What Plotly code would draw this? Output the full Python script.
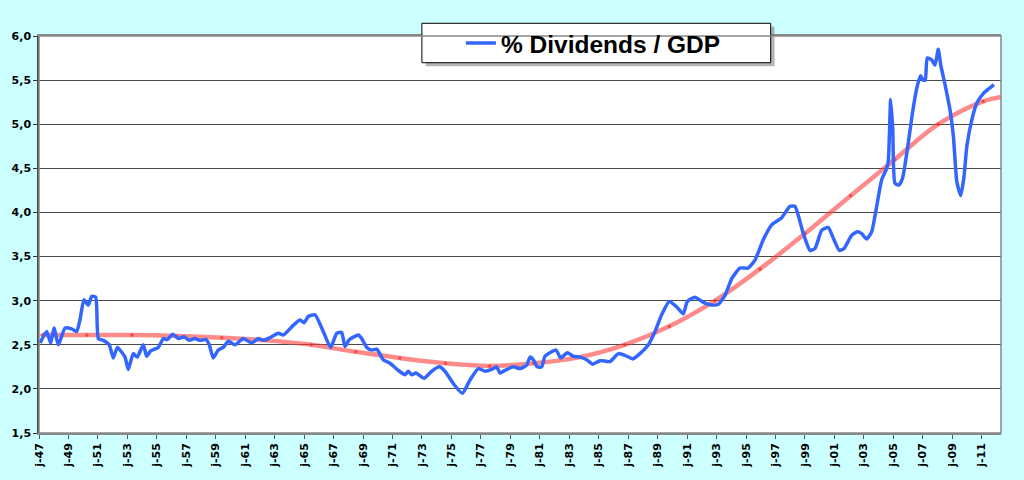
import plotly.graph_objects as go

# Blue series: % Dividends / GDP (year, value)
div_years = [
    1947.07, 1947.52, 1947.79, 1948.02, 1948.31, 1948.77, 1949.22, 1949.56, 1949.78, 1950.05,
    1950.35, 1950.58, 1950.85, 1951.03, 1951.37, 1951.77, 1952.04, 1952.32, 1952.84, 1953.06,
    1953.40, 1953.67, 1954.08, 1954.31, 1954.58, 1955.10, 1955.44, 1955.71, 1956.08, 1956.46,
    1956.84, 1957.20, 1957.59, 1957.93, 1958.34, 1958.56, 1958.83, 1959.17, 1959.51, 1959.85,
    1960.31, 1960.87, 1961.44, 1961.89, 1962.23, 1962.68, 1963.25, 1963.59, 1964.26, 1964.72,
    1964.99, 1965.28, 1965.74, 1966.30, 1966.80, 1967.21, 1967.55, 1967.77, 1968.07, 1968.68,
    1968.91, 1969.25, 1969.59, 1969.93, 1970.37, 1970.83, 1971.39, 1971.85, 1972.07, 1972.30,
    1972.59, 1973.14, 1973.66, 1974.18, 1974.56, 1975.13, 1975.74, 1976.26, 1976.82, 1977.28,
    1977.73, 1978.07, 1978.30, 1978.64, 1979.20, 1979.66, 1980.11, 1980.33, 1980.56, 1980.83,
    1981.13, 1981.35, 1982.10, 1982.42, 1982.86, 1983.27, 1983.73, 1984.18, 1984.59, 1985.09,
    1985.77, 1986.33, 1986.78, 1987.31, 1987.80, 1988.37, 1988.82, 1989.27, 1989.79, 1990.29,
    1990.74, 1991.01, 1991.54, 1992.10, 1992.67, 1993.12, 1993.57, 1994.03, 1994.59, 1995.15,
    1995.61, 1996.17, 1996.74, 1997.42, 1997.98, 1998.32, 1998.89, 1999.34, 1999.68, 2000.14,
    2000.58, 2000.92, 2001.33, 2001.65, 2002.17, 2002.55, 2002.85, 2003.19, 2003.53, 2003.87,
    2004.21, 2004.55, 2004.66, 2004.82, 2004.96, 2005.11, 2005.38, 2005.63, 2005.95, 2006.31,
    2006.62, 2006.85, 2007.03, 2007.17, 2007.30, 2007.60, 2007.83, 2008.05, 2008.22, 2008.51,
    2008.85, 2009.08, 2009.31, 2009.58, 2009.80, 2009.99, 2010.33, 2010.67, 2011.12, 2011.46,
    2011.83,
]
div_values = [
    2.52, 2.65, 2.52, 2.69, 2.50, 2.69, 2.68, 2.65, 2.78, 3.01,
    2.95, 3.05, 3.04, 2.57, 2.55, 2.50, 2.35, 2.47, 2.36, 2.22,
    2.40, 2.36, 2.50, 2.37, 2.43, 2.47, 2.57, 2.56, 2.62, 2.57,
    2.59, 2.55, 2.57, 2.55, 2.56, 2.50, 2.35, 2.44, 2.47, 2.54,
    2.50, 2.57, 2.52, 2.57, 2.55, 2.58, 2.63, 2.61, 2.72, 2.78,
    2.75, 2.82, 2.84, 2.65, 2.47, 2.63, 2.64, 2.48, 2.56, 2.61,
    2.57, 2.47, 2.44, 2.45, 2.33, 2.29, 2.21, 2.16, 2.20, 2.16,
    2.18, 2.12, 2.20, 2.25, 2.20, 2.06, 1.95, 2.10, 2.23, 2.20,
    2.22, 2.25, 2.18, 2.21, 2.25, 2.23, 2.27, 2.36, 2.33, 2.25,
    2.25, 2.37, 2.44, 2.35, 2.41, 2.37, 2.36, 2.33, 2.28, 2.32,
    2.31, 2.40, 2.38, 2.34, 2.40, 2.50, 2.65, 2.84, 2.99, 2.93,
    2.85, 2.99, 3.04, 2.98, 2.95, 2.96, 3.06, 3.25, 3.37, 3.37,
    3.46, 3.69, 3.86, 3.94, 4.07, 4.07, 3.76, 3.57, 3.59, 3.80,
    3.83, 3.71, 3.57, 3.59, 3.74, 3.78, 3.76, 3.70, 3.78, 4.07,
    4.37, 4.50, 4.58, 5.28, 4.94, 4.33, 4.31, 4.39, 4.71, 5.14,
    5.43, 5.55, 5.50, 5.50, 5.75, 5.73, 5.67, 5.85, 5.67, 5.45,
    5.16, 4.86, 4.35, 4.19, 4.41, 4.75, 5.05, 5.24, 5.35, 5.40,
    5.45,
]

# Red trend series
trend_years = [1947.2, 1950.25, 1953.3, 1956.35, 1959.4, 1962.45, 1965.5, 1968.5,
               1971.5, 1974.6, 1977.6, 1980.6, 1983.7, 1986.75, 1989.8, 1992.9,
               1995.95, 1999.0, 2002.1, 2005.1, 2008.05, 2011.1, 2012.35]
trend_values = [2.61, 2.61, 2.61, 2.60, 2.58, 2.55, 2.50, 2.42,
                2.35, 2.29, 2.26, 2.29, 2.36, 2.50, 2.71, 3.00,
                3.36, 3.76, 4.19, 4.60, 5.00, 5.26, 5.31]
trend_dot = [1] * (len(trend_years) - 1) + [0]

# X tick labels
tick_years = list(range(1947, 2012, 2))
tick_labels = ["j-%02d" % (y % 100) for y in tick_years]

fig = go.Figure()
fig.add_trace(go.Scatter(
    x=trend_years, y=trend_values, mode="lines+markers",
    line=dict(color="rgba(255,60,60,0.6)", width=4.5, shape="spline", smoothing=1.0),
    marker=dict(color="rgba(230,30,30,0.9)", size=[3 * d for d in trend_dot]),
    showlegend=False, hoverinfo="skip",
))
fig.add_trace(go.Scatter(
    x=div_years, y=div_values, mode="lines", name="% Dividends / GDP",
    line=dict(color="#3366FF", width=3.5, shape="spline", smoothing=0.5),
))

# Legend box with shadow
bx0, bx1, by0, by1 = 0.398, 0.7606, 0.9327, 1.032
fig.add_shape(type="rect", xref="paper", yref="paper",
              x0=bx0 + 0.004, x1=bx1 + 0.004, y0=by0 - 0.009, y1=by1 - 0.009,
              fillcolor="rgba(120,120,120,0.55)", line=dict(width=0), layer="above")
fig.add_shape(type="rect", xref="paper", yref="paper",
              x0=bx0, x1=bx1, y0=by0, y1=by1,
              fillcolor="white", line=dict(color="black", width=1), layer="above")

tickfont = dict(family="DejaVu Sans", size=11, color="black", weight="bold")

fig.update_layout(
    width=1024, height=480,
    margin=dict(l=39, r=23, t=36, b=47, autoexpand=False),
    paper_bgcolor="#CCFFFF",
    plot_bgcolor="white",
    separators=", ",
    showlegend=True,
    legend=dict(
        x=0.4386, y=0.982, xanchor="left", yanchor="middle",
        bgcolor="rgba(0,0,0,0)", borderwidth=0,
        font=dict(family="Liberation Sans", size=24.5, color="black", weight="bold"),
        itemwidth=30,
    ),
    xaxis=dict(
        range=[1947, 2012.31], automargin=False,
        tickmode="array", tickvals=tick_years, ticktext=tick_labels,
        tickangle=-90, ticks="outside", ticklen=4, tickcolor="#555",
        tickfont=tickfont,
        showgrid=False, showline=True, linecolor="#888", linewidth=1.5, mirror=True,
        zeroline=False,
    ),
    yaxis=dict(
        range=[1.5, 6.0], dtick=0.5, tick0=1.5, tickformat=".1f", automargin=False,
        ticks="outside", ticklen=4, tickcolor="#333",
        tickfont=tickfont,
        showgrid=True, gridcolor="#4a4a4a", gridwidth=1,
        showline=True, linecolor="#444", linewidth=1.5, mirror=False,
        zeroline=False,
    ),
)
# right/top border in gray
fig.add_shape(type="rect", xref="paper", yref="paper", x0=0, x1=1, y0=0, y1=1,
              line=dict(color="#888", width=1.5), layer="above")

fig.write_html(
    "out.html",
    config={"displayModeBar": False},
    post_script="document.body.style.margin='0';document.body.style.overflow='hidden';",
)
